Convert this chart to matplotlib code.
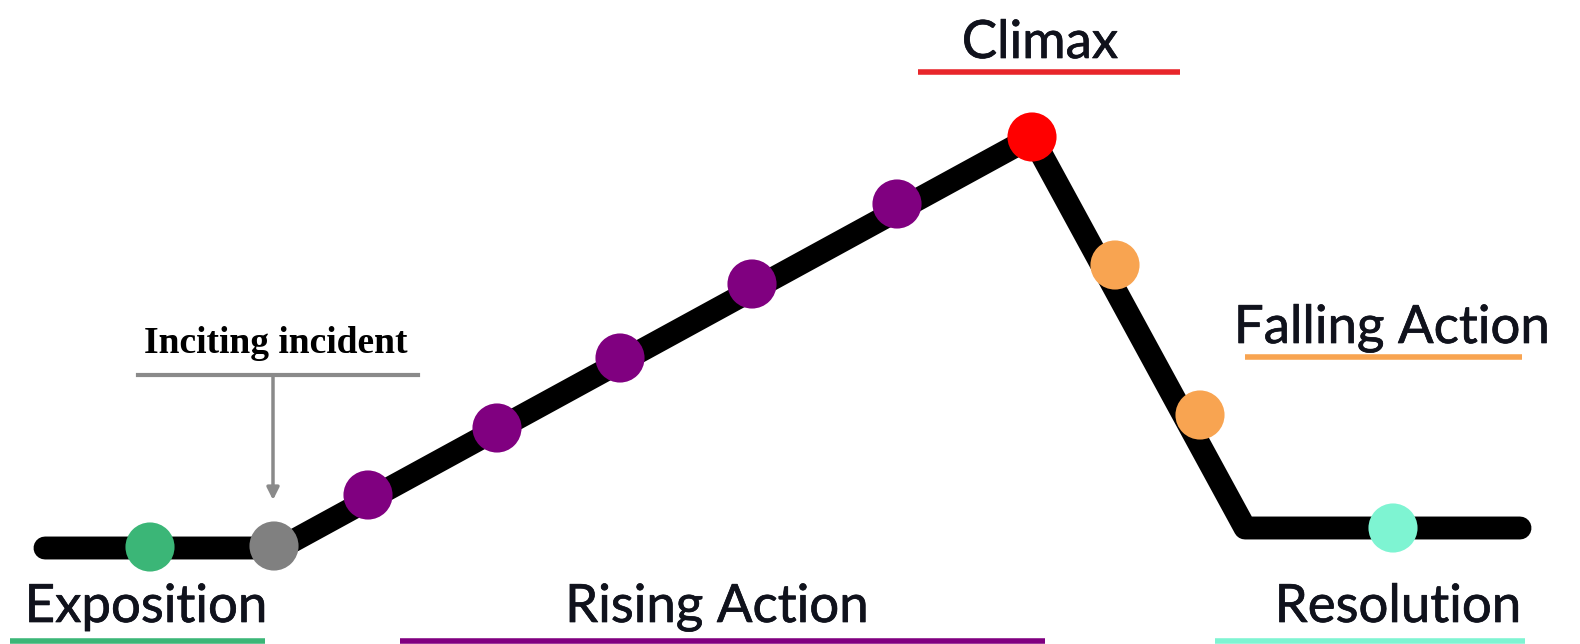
import matplotlib
matplotlib.use("Agg")
import matplotlib.pyplot as plt
import matplotlib.patheffects as pe

# Plot path (pixel space of the 1580x644 picture, y grows downward)
path_x = [45, 280, 1032, 1245, 1520]
path_y = [548, 548, 137, 528, 528]

# Story beats along the path
beat_x = [150, 274, 368, 497, 620, 752, 897, 1032, 1115, 1200, 1393]
beat_y = [547, 546, 495, 428, 358, 284, 204, 137, 265, 415, 528]
beat_colors = ["#3bb677", "#808080", "#800080", "#800080", "#800080", "#800080",
               "#800080", "#ff0000", "#f8a451", "#f8a451", "#7ef4d2"]

# Stage labels: text, text x, baseline y, underline x0, x1, underline y, colour
labels = ["Exposition", "Rising Action", "Climax", "Falling Action", "Resolution"]
label_x = [146, 717, 1040, 1392, 1398]
label_y = [622, 622, 58, 343, 622]
line_x0 = [10, 400, 918, 1245, 1215]
line_x1 = [265, 1045, 1180, 1522, 1525]
line_y = [641, 641, 72, 357, 641]
label_colors = ["#3bb677", "#800080", "#e8262b", "#f8a451", "#7ef4d2"]

fig = plt.figure(figsize=(15.8, 6.44), dpi=100)
ax = fig.add_axes([0, 0, 1, 1])
ax.set_xlim(0, 1580)
ax.set_ylim(644, 0)
ax.axis("off")

ax.plot(path_x, path_y, color="black", linewidth=16.5, solid_capstyle="round",
        solid_joinstyle="round", zorder=2)
ax.scatter(beat_x, beat_y, s=1250, c=beat_colors, edgecolors="none", zorder=3)

for t, x, y, x0, x1, ly, c in zip(labels, label_x, label_y, line_x0, line_x1,
                                   line_y, label_colors):
    ax.text(x, y, t, ha="center", va="baseline", fontsize=38,
            family="Lato", color="#10121c",
            path_effects=[pe.withStroke(linewidth=0.5, foreground="#10121c")])
    ax.plot([x0, x1], [ly, ly], color=c, linewidth=4, solid_capstyle="butt")

# Inciting incident callout
ax.text(276, 353, "Inciting incident", ha="center", va="baseline", fontsize=27,
        family="Liberation Serif", fontweight="bold", color="black")
ax.plot([138, 418], [375, 375], color="#8a8a8a", linewidth=3)
ax.annotate("", xy=(273, 500), xytext=(273, 375),
            arrowprops=dict(arrowstyle="-|>", color="#8a8a8a", lw=2.5,
                            mutation_scale=18, shrinkA=0, shrinkB=0))

fig.savefig("out.png", dpi=100, facecolor="white")
